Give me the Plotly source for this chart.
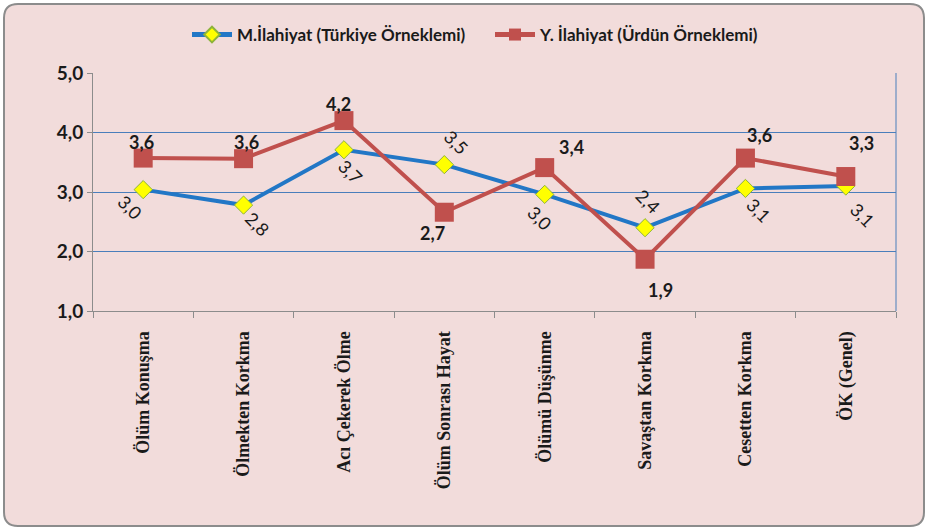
"""Ölüm kaygısı alt boyutları — iki örneklem karşılaştırma çizgi grafiği"""
import plotly.graph_objects as go

# ── Veri ──
categories = [
    "Ölüm Konuşma",
    "Ölmekten Korkma",
    "Acı Çekerek Ölme",
    "Ölüm Sonrası Hayat",
    "Ölümü Düşünme",
    "Savaştan Korkma",
    "Cesetten Korkma",
    "ÖK (Genel)",
]
turkiye = [3.04, 2.78, 3.71, 3.46, 2.96, 2.40, 3.06, 3.10]
urdun = [3.57, 3.56, 4.20, 2.66, 3.41, 1.87, 3.57, 3.26]
y_ticks = [1.0, 2.0, 3.0, 4.0, 5.0]

name_tr = "M.İlahiyat (Türkiye Örneklemi)"
name_ur = "Y. İlahiyat (Ürdün Örneklemi)"

# ── Etiket kaydırmaları (piksel) ──
tr_shift = [(-13, -17), (14, -19), (7, -22), (12, 23), (-5, -24), (3, 27), (13, -22), (17, -29)]
ur_shift = [(-2, 16), (3, 17), (-5, 17), (-12, -21), (27, 21), (15, -31), (14, 23), (16, 34)]

W, H = 928, 530
ML, MR, MT, MB = 93, 32, 73, 219
PW, PH = W - ML - MR, H - MT - MB

BLUE = "#2277C6"
RED = "#C0504D"
PINK = "#F2DCDB"
GRID = "#4A7EBB"
AXIS = "#8C8C8C"


def px(x):
    return (x - ML) / PW


def py(y):
    return (H - MB - y) / PH


def fmt(v):
    return f"{v:.1f}".replace(".", ",")


fig = go.Figure()

fig.add_trace(go.Scatter(
    x=categories, y=turkiye, name=name_tr, mode="lines+markers",
    line=dict(color=BLUE, width=4),
    marker=dict(symbol="diamond", size=14, color="#FFFF00",
                line=dict(color="#8DB33A", width=1)),
))
fig.add_trace(go.Scatter(
    x=categories, y=urdun, name=name_ur, mode="lines+markers",
    line=dict(color=RED, width=4),
    marker=dict(symbol="square", size=19, color=RED),
))

# ── Veri etiketleri ──
for c, v, (dx, dy) in zip(categories, turkiye, tr_shift):
    fig.add_annotation(x=c, y=v, text=fmt(v), showarrow=False, textangle=45,
                       xshift=dx, yshift=dy,
                       font=dict(family="Lato", size=18, color="#1A1A1A"))
for c, v, (dx, dy) in zip(categories, urdun, ur_shift):
    fig.add_annotation(x=c, y=v, text=f"<b>{fmt(v)}</b>", showarrow=False,
                       xshift=dx, yshift=dy,
                       font=dict(family="Lato", size=18, color="#1A1A1A"))

# ── Dış çerçeve (yuvarlak köşeli) ──
x0, x1, y0, y1, r = 4, 924, 4, 526, 14
path = (
    f"M {px(x0 + r)},{py(y0)} L {px(x1 - r)},{py(y0)} "
    f"Q {px(x1)},{py(y0)} {px(x1)},{py(y0 + r)} "
    f"L {px(x1)},{py(y1 - r)} Q {px(x1)},{py(y1)} {px(x1 - r)},{py(y1)} "
    f"L {px(x0 + r)},{py(y1)} Q {px(x0)},{py(y1)} {px(x0)},{py(y1 - r)} "
    f"L {px(x0)},{py(y0 + r)} Q {px(x0)},{py(y0)} {px(x0 + r)},{py(y0)} Z"
)
fig.add_shape(type="path", path=path, xref="paper", yref="paper",
              fillcolor=PINK, line=dict(color=AXIS, width=2), layer="below")
# sağ kenar çizgisi
fig.add_shape(type="line", xref="x domain", yref="y domain", x0=1, x1=1, y0=0, y1=1,
              line=dict(color=GRID, width=1))

fig.update_layout(
    width=W, height=H,
    paper_bgcolor="white",
    plot_bgcolor="rgba(0,0,0,0)",
    separators=",.",
    margin=dict(l=ML, r=MR, t=MT, b=MB),
    showlegend=True,
    legend=dict(
        orientation="h", x=px(187), xanchor="left", y=py(35), yanchor="middle",
        font=dict(family="Lato", size=17, color="#1A1A1A", weight="bold"),
        itemsizing="constant", itemwidth=40, entrywidth=248,
        bgcolor="rgba(0,0,0,0)", tracegroupgap=0,
    ),
    font=dict(family="Lato", color="#1A1A1A"),
)

fig.update_xaxes(
    range=[-0.5, len(categories) - 0.5],
    tickangle=-90,
    tickson="boundaries",
    ticks="outside", ticklen=6, tickcolor=AXIS,
    showline=True, linecolor=AXIS, linewidth=1,
    showgrid=False, zeroline=False,
    ticklabelstandoff=12,
    tickfont=dict(family="Liberation Serif", size=18, color="#1A1A1A", weight="bold"),
)
fig.update_yaxes(
    range=[1, 5], tickvals=y_ticks, tickformat=".1f",
    ticks="outside", ticklen=5, tickcolor=AXIS,
    showline=True, linecolor=AXIS, linewidth=1,
    showgrid=True, gridcolor=GRID, gridwidth=1, zeroline=False,
    tickfont=dict(family="Lato", size=19, color="#1A1A1A", weight="bold"),
)

fig.write_html("out.html", config={"displayModeBar": False},
               post_script="document.body.style.margin='0';")
